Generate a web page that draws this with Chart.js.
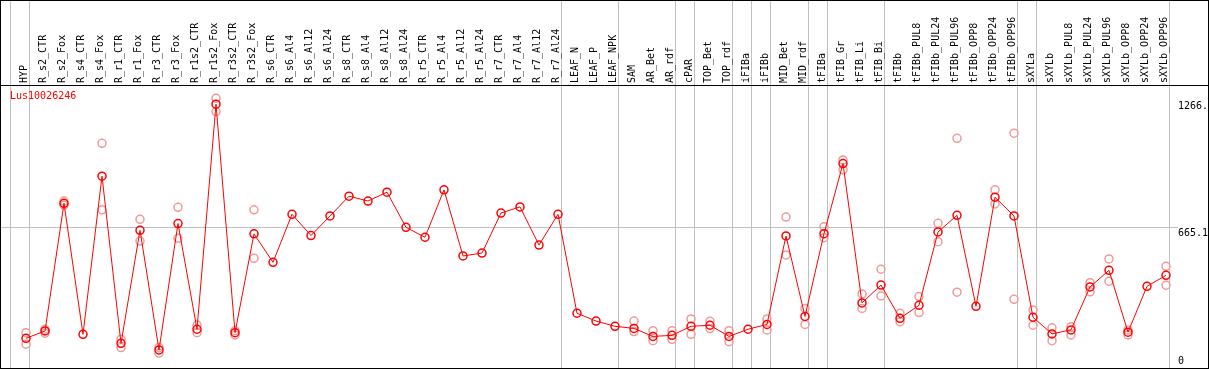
<!DOCTYPE html>
<html>
<head>
<meta charset="utf-8">
<script src="https://cdn.jsdelivr.net/npm/chart.js@4/dist/chart.umd.min.js"></script>
<style>
  html, body { margin: 0; padding: 0; background: #fff; }
</style>
</head>
<body>
<canvas id="expr" width="1209" height="370"></canvas>
<script>
const geneName = 'Lus10026246';

const samples = [
  'HYP', 'R_s2_CTR', 'R_s2_Fox', 'R_s4_CTR', 'R_s4_Fox', 'R_r1_CTR', 'R_r1_Fox',
  'R_r3_CTR', 'R_r3_Fox', 'R_r1s2_CTR', 'R_r1s2_Fox', 'R_r3s2_CTR', 'R_r3s2_Fox',
  'R_s6_CTR', 'R_s6_Al4', 'R_s6_Al12', 'R_s6_Al24', 'R_s8_CTR', 'R_s8_Al4',
  'R_s8_Al12', 'R_s8_Al24', 'R_r5_CTR', 'R_r5_Al4', 'R_r5_Al12', 'R_r5_Al24',
  'R_r7_CTR', 'R_r7_Al4', 'R_r7_Al12', 'R_r7_Al24', 'LEAF_N', 'LEAF_P', 'LEAF_NPK',
  'SAM', 'AR_Bet', 'AR_rdf', 'cPAR', 'TOP_Bet', 'TOP_rdf', 'iFIBa', 'iFIBb',
  'MID_Bet', 'MID_rdf', 'tFIBa', 'tFIB_Gr', 'tFIB_Li', 'tFIB_Bi', 'tFIBb',
  'tFIBb_PUL8', 'tFIBb_PUL24', 'tFIBb_PUL96', 'tFIBb_OPP8', 'tFIBb_OPP24', 'tFIBb_OPP96',
  'sXYLa', 'sXYLb', 'sXYLb_PUL8', 'sXYLb_PUL24', 'sXYLb_PUL96', 'sXYLb_OPP8',
  'sXYLb_OPP24', 'sXYLb_OPP96'
];

// mean expression per sample
const means = [
  141, 176, 782, 160, 911, 117, 654, 86, 686, 184, 1253, 168, 637,
  502, 730, 629, 722, 816, 793, 835, 668, 621, 846, 532, 546, 736, 765, 584, 730,
  260, 223, 198, 188, 150, 155, 198, 203, 150, 184, 207, 627, 245,
  638, 971, 309, 394, 236, 298, 646, 725, 293, 811, 722,
  241, 162, 181, 385, 464, 170, 388, 440
];

// replicate values (null = no separate replicate visible)
const repHigh = [
  168, 184, 793, null, 1067, 136, 706, 97, 763, 204, 1281, 177, 751,
  null, null, null, null, null, null, null, null, null, null, null, null, null, null, null, null,
  null, null, null, 223, 177, 177, 233, 222, 177, null, 233, 717, 283,
  671, 988, 352, 469, 260, 339, 687, 1091, null, 846, 1115,
  276, 191, 196, 405, 518, 181, null, 483
];
const repLow = [
  113, 165, 774, null, 751, 97, 603, 70, 616, 168, 1218, 157, 521,
  null, null, null, null, null, null, null, null, null, null, null, null, null, null, null, null,
  null, null, null, 173, 130, 136, 160, 187, 125, null, 181, 537, 207,
  619, 941, 283, 342, 220, 263, 600, 360, null, 779, 326,
  203, 130, 157, 362, 412, 157, null, 393
];

// sample index after which a group separator is drawn
const groupEnds = [-1, 0, 28, 31, 34, 35, 37, 38, 39, 41, 42, 45, 52, 53, 60];

const yTicks = [0, 665.1, 1266];
const yTickLabels = ['0', '665.1', '1266.'];

const toPoints = arr => arr.map((v, i) => ({ x: i, y: v })).filter(p => p.y !== null);

const monoFont = { family: 'DejaVu Sans Mono', size: 10 };
const xMin = -25 / 19;
const xMax = 1152 / 19;

const noPad = s => { s.paddingLeft = 0; s.paddingRight = 0; s.paddingTop = 0; s.paddingBottom = 0; };

const framePlugin = {
  id: 'frame',
  afterDraw(chart) {
    const ctx = chart.ctx;
    const area = chart.chartArea;
    const yScale = chart.scales.y;
    ctx.save();
    ctx.strokeStyle = '#000';
    ctx.lineWidth = 1;
    ctx.strokeRect(0.5, 0.5, 1208, 368);
    ctx.beginPath();
    ctx.moveTo(0, area.top + 0.5);
    ctx.lineTo(1209, area.top + 0.5);
    ctx.stroke();

    ctx.font = '10px "DejaVu Sans Mono"';
    ctx.textAlign = 'left';
    ctx.textBaseline = 'top';
    ctx.fillStyle = '#000';
    yTicks.forEach((v, i) => {
      const py = Math.min(yScale.getPixelForValue(v), area.bottom - 12);
      ctx.fillText(yTickLabels[i], area.right, py);
    });
    ctx.fillStyle = '#ff0000';
    ctx.fillText(geneName, 10, area.top + 6);
    ctx.restore();
  }
};

new Chart(document.getElementById('expr'), {
  type: 'line',
  data: {
    datasets: [
      {
        label: geneName,
        data: toPoints(means),
        borderColor: '#ff0000',
        borderWidth: 1,
        pointStyle: 'circle',
        pointRadius: 4,
        pointBorderWidth: 1.5,
        pointBorderColor: '#ff0000',
        pointBackgroundColor: 'rgba(0,0,0,0)',
        tension: 0
      },
      {
        label: 'rep high',
        data: toPoints(repHigh),
        showLine: false,
        pointRadius: 4,
        pointBorderWidth: 1.5,
        pointBorderColor: '#f09a9a',
        pointBackgroundColor: 'rgba(0,0,0,0)'
      },
      {
        label: 'rep low',
        data: toPoints(repLow),
        showLine: false,
        pointRadius: 4,
        pointBorderWidth: 1.5,
        pointBorderColor: '#f09a9a',
        pointBackgroundColor: 'rgba(0,0,0,0)'
      }
    ]
  },
  options: {
    responsive: false,
    animation: false,
    layout: { autoPadding: false, padding: { top: 1, left: 1, right: 31, bottom: 2 } },
    plugins: {
      legend: { display: false },
      tooltip: { enabled: false }
    },
    scales: {
      x: {
        type: 'linear',
        position: 'top',
        weight: 1,
        min: xMin,
        max: xMax,
        afterBuildTicks: s => { s.ticks = samples.map((_, i) => ({ value: i })); },
        afterFit: s => { s.height = 84; noPad(s); },
        grid: { display: false, drawTicks: false },
        border: { display: false },
        ticks: {
          autoSkip: false,
          minRotation: 90,
          maxRotation: 90,
          padding: 2,
          labelOffset: 10,
          color: '#000',
          font: monoFont,
          callback: v => samples[v]
        }
      },
      xs: {
        type: 'linear',
        position: 'top',
        weight: 0,
        min: xMin,
        max: xMax,
        afterBuildTicks: s => { s.ticks = groupEnds.map(i => ({ value: i + 0.21 })); },
        afterFit: s => { s.height = 0; noPad(s); },
        ticks: { display: false },
        grid: { color: '#c0c0c0', lineWidth: 1, drawTicks: true, tickLength: 85 },
        border: { display: false }
      },
      y: {
        type: 'linear',
        min: 0,
        max: 1344,
        afterBuildTicks: s => { s.ticks = [{ value: 665.1 }]; },
        afterFit: s => { s.width = 0; noPad(s); },
        ticks: { display: false },
        grid: { color: '#c0c0c0', drawTicks: false },
        border: { display: false }
      }
    }
  },
  plugins: [framePlugin]
});
</script>
</body>
</html>
